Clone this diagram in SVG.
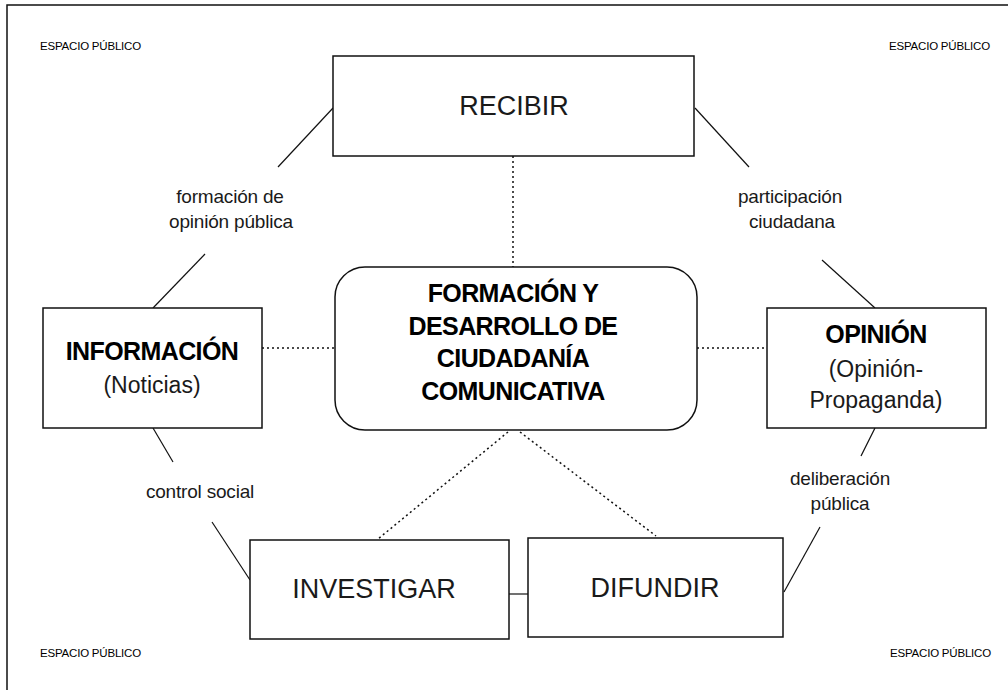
<svg xmlns="http://www.w3.org/2000/svg" width="1008" height="690" viewBox="0 0 1008 690">
<style>
.box{fill:#fff;stroke:#111;stroke-width:1.5}
.ln{stroke:#111;stroke-width:1.2;fill:none}
.dot{stroke:#111;stroke-width:1.5;fill:none;stroke-dasharray:2 3}
.t{font-family:"Liberation Sans",Arial,sans-serif;fill:#1a1a1a;text-anchor:middle}
.big{font-size:27px}
.bold{font-size:25px;font-weight:bold;fill:#000;letter-spacing:-0.6px}
.sub{font-size:23px}
.lbl{font-size:19px;letter-spacing:-0.2px}
.esp{font-family:"Liberation Sans",Arial,sans-serif;font-size:11.5px;fill:#000;letter-spacing:-0.2px}
</style>
<rect x="0" y="0" width="1008" height="690" fill="#fff"/>
<rect x="7" y="5" width="1010" height="700" fill="none" stroke="#111" stroke-width="1.5"/>
<text class="esp" x="40" y="50">ESPACIO PÚBLICO</text>
<text class="esp" x="889" y="50">ESPACIO PÚBLICO</text>
<text class="esp" x="40" y="657">ESPACIO PÚBLICO</text>
<text class="esp" x="890" y="657">ESPACIO PÚBLICO</text>
<g id="connectors">
<line class="ln" x1="333" y1="108" x2="278" y2="167"/>
<line class="ln" x1="695" y1="108" x2="749" y2="167"/>
<line class="ln" x1="205" y1="254" x2="153" y2="308"/>
<line class="ln" x1="822" y1="260" x2="875" y2="308"/>
<line class="ln" x1="153" y1="428" x2="173" y2="462"/>
<line class="ln" x1="875" y1="428" x2="861" y2="456"/>
<line class="ln" x1="212" y1="522" x2="250" y2="580"/>
<line class="ln" x1="784" y1="592" x2="820" y2="527"/>
<line class="ln" x1="509" y1="594" x2="528" y2="594"/>
<line class="dot" x1="513" y1="156" x2="513" y2="267"/>
<line class="dot" x1="262" y1="348" x2="335" y2="348"/>
<line class="dot" x1="697" y1="348" x2="767" y2="348"/>
<line class="dot" x1="508" y1="432" x2="378" y2="539"/>
<line class="dot" x1="520" y1="432" x2="656" y2="536"/>
</g>
<g id="labels">
<text class="t lbl" x="230" y="203">formación de</text>
<text class="t lbl" x="231" y="228">opinión pública</text>
<text class="t lbl" x="790" y="203">participación</text>
<text class="t lbl" x="792" y="228">ciudadana</text>
<text class="t lbl" x="200" y="498">control social</text>
<text class="t lbl" x="840" y="485">deliberación</text>
<text class="t lbl" x="840" y="510">pública</text>
</g>
<g id="recibir">
<rect class="box" x="333" y="56" width="361" height="100"/>
<text class="t big" x="514" y="115">RECIBIR</text>
</g>
<g id="centro">
<rect class="box" x="335" y="267" width="362" height="163" rx="30" ry="30"/>
<text class="t bold" x="513" y="302">FORMACIÓN Y</text>
<text class="t bold" x="513" y="335">DESARROLLO DE</text>
<text class="t bold" x="513" y="367">CIUDADANÍA</text>
<text class="t bold" x="513" y="400">COMUNICATIVA</text>
</g>
<g id="informacion">
<rect class="box" x="43" y="308" width="219" height="120"/>
<text class="t bold" x="152" y="360">INFORMACIÓN</text>
<text class="t sub" x="152" y="393">(Noticias)</text>
</g>
<g id="opinion">
<rect class="box" x="767" y="308" width="219" height="120"/>
<text class="t bold" x="876" y="343">OPINIÓN</text>
<text class="t sub" x="876" y="377">(Opinión-</text>
<text class="t sub" x="876" y="408">Propaganda)</text>
</g>
<g id="investigar">
<rect class="box" x="250" y="540" width="259" height="99"/>
<text class="t big" x="374" y="598">INVESTIGAR</text>
</g>
<g id="difundir">
<rect class="box" x="528" y="538" width="255" height="99"/>
<text class="t big" x="655" y="597">DIFUNDIR</text>
</g>
</svg>
